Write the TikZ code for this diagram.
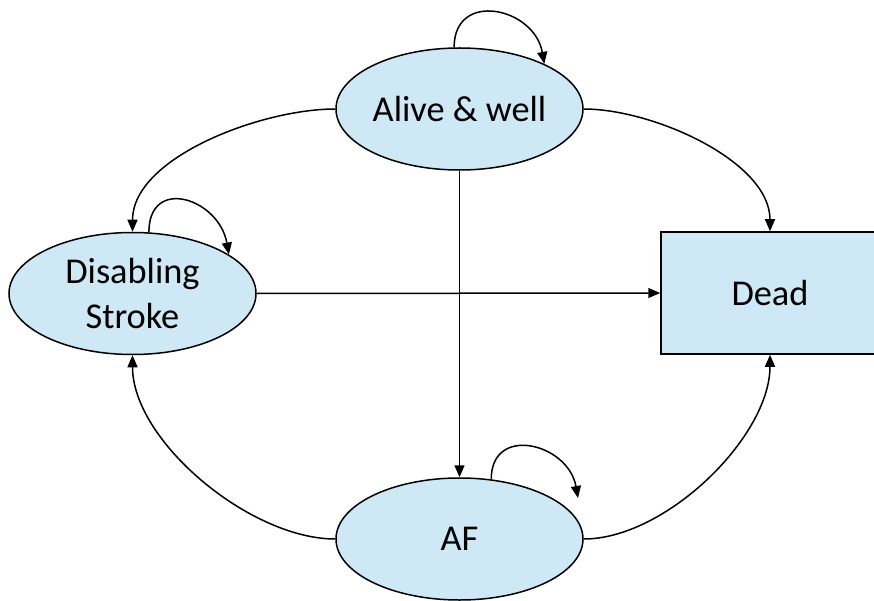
\documentclass[tikz,border=0pt]{standalone}
\usepackage{fontspec}
\setmainfont{Carlito}
\usetikzlibrary{shapes.geometric,arrows.meta}
\definecolor{statefill}{RGB}{207,232,245}
\tikzset{
  statenode/.style={ellipse, draw=black, line width=1.5bp, fill=statefill,
    minimum width=247bp, minimum height=122bp, inner sep=0pt, align=center,
    font=\fontsize{36.5}{45}\selectfont},
  deadnode/.style={rectangle, draw=black, line width=1.5bp, fill=statefill,
    minimum width=218bp, minimum height=122bp, inner sep=0pt,
    font=\fontsize{36.5}{45}\selectfont},
  trans/.style={draw=black, line width=1.5bp,
    -{Triangle[length=12bp,width=10bp]}},
}
\begin{document}
\begin{tikzpicture}[x=1bp, y=-1bp]
  \useasboundingbox (0,0) rectangle (874,601);
  \clip (0,0) rectangle (874,601);

  % states
  \node[statenode] (aw) at (459.5,109) {Alive \& well};
  \node[statenode] (ds) at (132.5,293.5) {Disabling\\Stroke};
  \node[statenode] (af) at (459.5,539) {AF};
  \node[deadnode]  (dead) at (770,293) {Dead};
  \coordinate (afloopend) at (578,498);

  % transitions between states
  \draw[trans] (aw.west) to[out=180,in=90,looseness=0.8] (ds.north);
  \draw[trans] (aw.east) to[out=0,in=90,looseness=0.8] (dead.north);
  \draw[trans] (aw.south) -- (af.north);
  \draw[trans] (ds.east) -- (dead.west);
  \draw[trans] (af.west) to[out=180,in=-90,looseness=0.8] (ds.south);
  \draw[trans] (af.east) to[out=0,in=-90,looseness=0.8] (dead.south);

  % staying in the same state
  \draw[trans] (aw.95) to[out=90,in=100,looseness=1.6] (aw.28);
  \draw[trans] (ds.75) to[out=90,in=100,looseness=1.75] (ds.22);
  \draw[trans] (af.62) to[out=90,in=100,looseness=1.6] (afloopend);
\end{tikzpicture}
\end{document}
